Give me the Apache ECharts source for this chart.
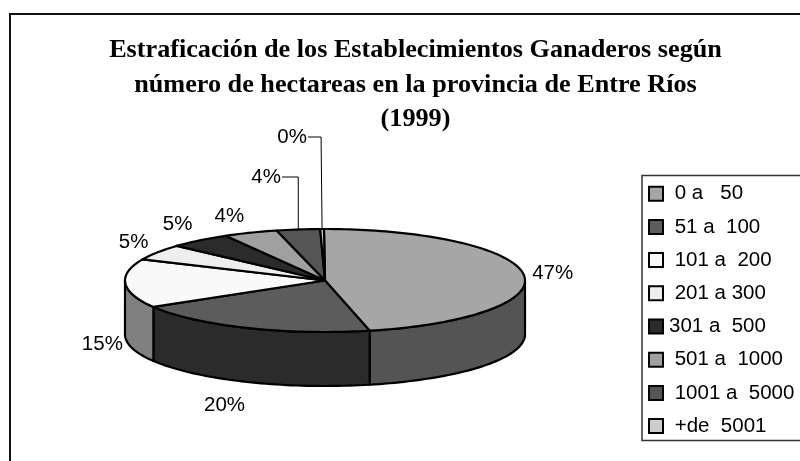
<!DOCTYPE html>
<html><head><meta charset="utf-8">
<style>html,body{margin:0;padding:0;background:#fff}#c{width:800px;height:461px}</style>
<script src="https://cdn.jsdelivr.net/npm/echarts@6/dist/echarts.min.js"></script>
</head><body><div id="c"></div>
<script>
const categories = [' 0 a   50',' 51 a  100',' 101 a  200',' 201 a 300','301 a  500',' 501 a  1000',' 1001 a  5000',' +de  5001'];
const values = [46.5,20,15.3,5,5,4.4,3.5,0.3];
const topColors = ['#a6a6a6','#5c5c5c','#f9f9f9','#eeeeee','#2b2b2b','#a0a0a0','#555555','#cccccc'];
const sideColors = ['#545454','#2b2b2b','#808080','#777777','#161616','#505050','#2b2b2b','#666666'];
const titleText = 'Estraficación de los Establecimientos Ganaderos según\nnúmero de hectareas en la provincia de Entre Ríos\n(1999)';

// layout of the tilted pie
const CX=325, CY=280.5, RX=200, RY=51.5, DEPTH=54, START=-0.3;
// label offsets relative to the rim point of each slice's mid-angle
const labelOffset = [[29,-1],[-22,77],[-23,61],[-24,-10],[-22,-16],[-21,-16],null,null];
// leader-line labels: elbow height and horizontal end of the leader
const leaders = {6:{top:177,hx:282},7:{top:137,hx:308}};

const total = values.reduce((a,b)=>a+b,0);
const rad = d => d*Math.PI/180;
const pt = (t,dy=0)=>[CX+RX*Math.sin(rad(t)), CY-RY*Math.cos(rad(t))+dy];
function arc(a,b,dy=0){const n=Math.max(2,Math.ceil(Math.abs(b-a)/1.5));const r=[];for(let i=0;i<=n;i++)r.push(pt(a+(b-a)*i/n,dy));return r;}
const starts=[];values.reduce((s,v,i)=>{starts[i]=s;return s+v/total*360;},START);

function renderSlice(i){
  return function(params,api){
    const v=api.value(0), a=starts[i], b=a+v/total*360, mid=(a+b)/2;
    const kids=[];
    const line={stroke:'#000',lineWidth:2.2,lineJoin:'round'};
    const sa=Math.max(a,90), sb=Math.min(b,270);
    if(sb>sa){
      const upper=arc(sa,sb), lower=arc(sb,sa,DEPTH);
      kids.push({type:'polygon',shape:{points:upper.concat(lower)},style:Object.assign({fill:sideColors[i]},line)});
    }
    kids.push({type:'polygon',shape:{points:[[CX,CY]].concat(arc(a,b))},style:Object.assign({fill:topColors[i]},line)});
    const label=Math.round(v)+'%';
    const font='20.5px "Liberation Sans", Arial, sans-serif';
    if(leaders[i]){
      const p=pt(mid), L=leaders[i];
      kids.push({type:'polyline',shape:{points:[p,[p[0]-(i===7?1:0),L.top],[L.hx,L.top]]},style:{stroke:'#000',lineWidth:1,fill:null},z2:5});
      kids.push({type:'text',style:{x:L.hx-1,y:L.top,text:label,font,fill:'#000',align:'right',verticalAlign:'middle'},z2:6});
    } else {
      const p=pt(mid), o=labelOffset[i];
      kids.push({type:'text',style:{x:p[0]+o[0],y:p[1]+o[1],text:label,font,fill:'#000',align:'center',verticalAlign:'middle'},z2:6});
    }
    return {type:'group',children:kids};
  };
}

const chart=echarts.init(document.getElementById('c'),null,{renderer:'canvas'});
chart.setOption({
  animation:false,
  backgroundColor:'#fff',
  title:{text:titleText,left:410.5,top:28,textAlign:'center',
    textStyle:{fontFamily:'"Liberation Serif","Times New Roman",serif',fontWeight:'bold',fontSize:26.2,lineHeight:34.5,color:'#000',align:'center'}},
  legend:{orient:'vertical',left:643,top:177,itemWidth:14,itemHeight:14,itemGap:9.8,selectedMode:false,
    icon:'rect',
    textStyle:{fontFamily:'"Liberation Sans",Arial,sans-serif',fontSize:20.5,lineHeight:23.4,color:'#000',padding:[0,0,0,1]},
    data:categories.map((n,i)=>({name:n,icon:'rect',itemStyle:{color:topColors[i],borderColor:'#000',borderWidth:2}}))},
  graphic:[
    {type:'polyline',shape:{points:[[10,461],[10,14],[800,14]]},style:{stroke:'#111',lineWidth:2,fill:null}},
    {type:'polyline',shape:{points:[[800,175.5],[642,175.5],[642,440.5],[800,440.5]]},style:{stroke:'#333',lineWidth:1.5,fill:null}}
  ],
  series:categories.map((n,i)=>({type:'custom',name:n,coordinateSystem:'none',silent:true,
    itemStyle:{color:topColors[i]},data:[[values[i]]],renderItem:renderSlice(i)}))
});
</script></body></html>
